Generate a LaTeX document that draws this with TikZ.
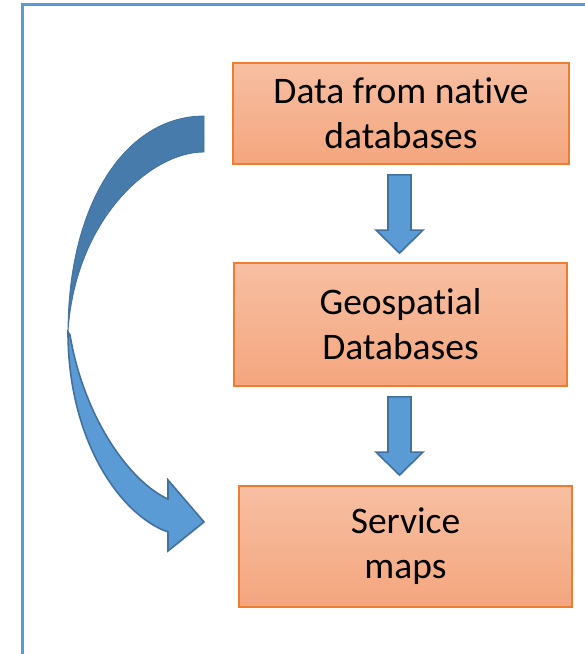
\documentclass[tikz,border=0pt]{standalone}
\usepackage{fontspec}
\setmainfont[Ligatures=NoCommon]{Carlito}
\usetikzlibrary{calc}
\definecolor{frameblue}{HTML}{5B9BD5}
\definecolor{arrowfill}{HTML}{5B9BD5}
\definecolor{arrowline}{HTML}{41719C}
\definecolor{darkband}{HTML}{467BAB}
\definecolor{boxtop}{RGB}{247,191,162}
\definecolor{boxbot}{RGB}{244,166,126}
\definecolor{boxline}{HTML}{ED7D31}
\tikzset{
  stepbox/.style={draw=boxline, line width=1.8pt, top color=boxtop, bottom color=boxbot,
    inner sep=0pt, align=center, font=\fontsize{37.5}{45}\selectfont},
  blockarrow/.style={fill=arrowfill, draw=arrowline, line width=1.6pt, line join=miter},
}
\begin{document}
\begin{tikzpicture}[x=1pt,y=-1pt]
\useasboundingbox (0,0) rectangle (585,654);
\begin{scope}
\clip (0,0) rectangle (585,654);
\draw[frameblue, line width=3.2pt] (22.5,4.5) rectangle (640,700);
\end{scope}

\node[stepbox, minimum width=336pt, minimum height=101pt] (b1) at (401,113.5) {Data from native\\databases};
\node[stepbox, minimum width=333pt, minimum height=123pt] (b2) at (400.5,324.5) {Geospatial\\Databases};
\node[stepbox, minimum width=333pt, minimum height=121pt] (b3) at (405.5,546.5) {Service\\maps};

% straight block arrows
\coordinate (a1) at ($(b1.south)+(-1.5,10)$);
\coordinate (t1) at ($(b2.north)+(-1,-9)$);
\draw[blockarrow] ($(a1)+(-11.5,0)$) -- ($(a1)+(11.5,0)$) -- ($(t1)+(11.5,-23)$) -- ($(t1)+(23.5,-23)$)
  -- (t1) -- ($(t1)+(-23.5,-23)$) -- ($(t1)+(-11.5,-23)$) -- cycle;
\coordinate (a2) at ($(b2.south)+(-1,10)$);
\coordinate (t2) at ($(b3.north)+(-6,-10)$);
\draw[blockarrow] ($(a2)+(-11.5,0)$) -- ($(a2)+(11.5,0)$) -- ($(t2)+(11.5,-23)$) -- ($(t2)+(23.5,-23)$)
  -- (t2) -- ($(t2)+(-23.5,-23)$) -- ($(t2)+(-11.5,-23)$) -- cycle;

% curved arrow: back band
\fill[darkband, draw=arrowline, line width=0.8pt] (204,116) .. controls (125,116) and (68,205) .. (68,332)
  .. controls (75,220) and (150,152) .. (204,152) -- cycle;
% curved arrow: front band with head
\draw[blockarrow] (68,332) .. controls (68,440) and (120,515) .. (168,532)
  -- (168,551) -- (204,522) -- (168,480) -- (168,499)
  .. controls (130,482) and (84,418) .. (70,335) -- cycle;
\end{tikzpicture}
\end{document}
